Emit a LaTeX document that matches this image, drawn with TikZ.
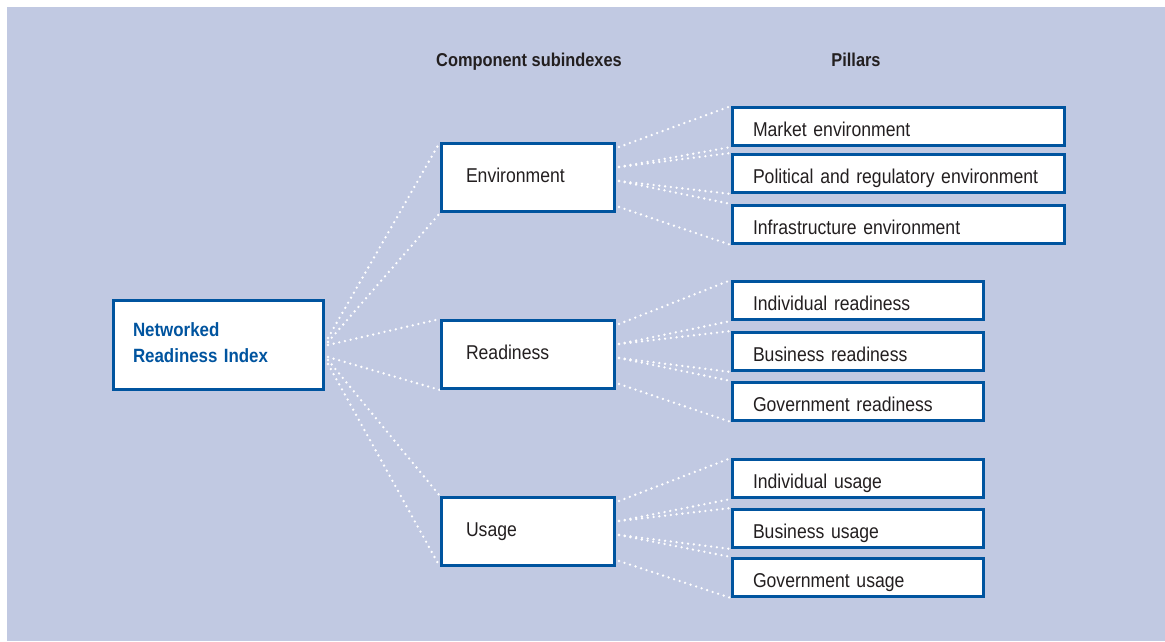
\documentclass[tikz,border=0pt]{standalone}
\usepackage{fontspec}
\setmainfont{Liberation Sans}[FakeStretch=0.88]
\usetikzlibrary{calc}
\definecolor{bgc}{RGB}{193,201,226}
\definecolor{nblue}{RGB}{0,84,159}
\definecolor{txt}{RGB}{35,31,32}
\pgfdeclarelayer{bg}
\pgfdeclarelayer{lines}
\pgfsetlayers{bg,lines,main}
\begin{document}
\begin{tikzpicture}[x=1pt,y=-1pt,
  box/.style={draw=nblue, line width=3pt, fill=white, inner ysep=0pt, align=left,
    text=txt, anchor=north west, font=\fontsize{20}{24}\selectfont,
    text height=19.3pt, text depth=0pt},
  pillarA/.style={box, text width=291pt, inner xsep=20.5pt, minimum height=38pt},
  pillarB/.style={box, text width=210pt, inner xsep=20.5pt, minimum height=38pt},
  subbox/.style={box, text width=124pt, inner xsep=24.5pt, minimum height=68pt,
    text height=9.3pt},
  mainbox/.style={box, text width=171pt, inner xsep=19.5pt, minimum height=89pt,
    text=nblue, font=\bfseries\fontsize{19.2}{25.5}\selectfont, text height=, text depth=30pt},
  header/.style={text=txt, font=\bfseries\fontsize{18.6}{22}\selectfont, inner sep=0pt,
    text height=13.3pt, text depth=0pt},
  dots/.style={draw=white, line width=2.6pt, line cap=round, dash pattern=on 0pt off 5.8pt}
]
\useasboundingbox (0,0) rectangle (1165,641);
\begin{pgfonlayer}{bg}
\fill[bgc] (7,7) rectangle (1165,641);
\end{pgfonlayer}

\node[header] (h1) at (529,60) {Component subindexes};
\node[header] (h2) at (856,60) {Pillars};

\node[mainbox] (nri) at (112,299) {Networked\\Readiness Index};

\node[subbox] (env) at (440,142) {Environment};
\node[subbox] (rea) at (440,319) {Readiness};
\node[subbox] (use) at (440,496) {Usage};

\node[pillarA] (pa) at (731,106) {Market environment};
\node[pillarA] (pb) at (731,153) {Political and regulatory environment};
\node[pillarA] (pc) at (731,204) {Infrastructure environment};
\node[pillarB] (pd) at (731,280) {Individual readiness};
\node[pillarB] (pe) at (731,331) {Business readiness};
\node[pillarB] (pf) at (731,381) {Government readiness};
\node[pillarB] (pg) at (731,458) {Individual usage};
\node[pillarB] (ph) at (731,508) {Business usage};
\node[pillarB] (pi) at (731,557) {Government usage};

\begin{pgfonlayer}{lines}
\draw[dots] ($(nri.north east)+(3,39)$) -- (env.north west);
\draw[dots] ($(nri.north east)+(3,43)$) -- (env.south west);
\draw[dots] ($(nri.north east)+(3,46)$) -- (rea.north west);
\draw[dots] ($(nri.north east)+(3,58)$) -- (rea.south west);
\draw[dots] ($(nri.north east)+(3,61)$) -- (use.north west);
\draw[dots] ($(nri.north east)+(3,65)$) -- (use.south west);
\foreach \s/\a/\b/\c in {env/pa/pb/pc, rea/pd/pe/pf, use/pg/ph/pi}{
  \draw[dots] ($(\s.north east)+(3,5)$) -- (\a.north west);
  \draw[dots] ($(\s.north east)+(3,25)$) -- (\a.south west);
  \draw[dots] ($(\s.north east)+(3,25)$) -- (\b.north west);
  \draw[dots] ($(\s.north east)+(3,39)$) -- (\b.south west);
  \draw[dots] ($(\s.north east)+(3,39)$) -- (\c.north west);
  \draw[dots] ($(\s.north east)+(3,65)$) -- (\c.south west);
}
\end{pgfonlayer}
\end{tikzpicture}
\end{document}
